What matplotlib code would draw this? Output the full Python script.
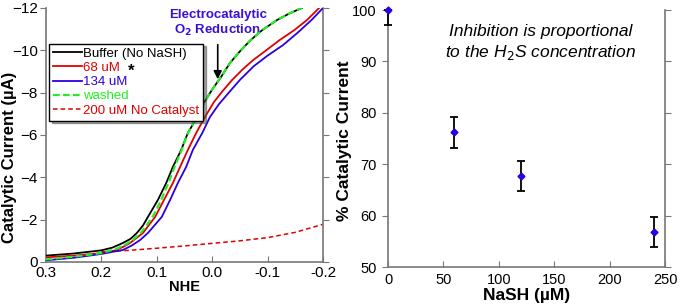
import matplotlib
matplotlib.use("Agg")
import matplotlib.pyplot as plt

plt.rcParams['font.family'] = ['Liberation Sans', 'DejaVu Sans']

# Left panel: catalytic current (uA) vs potential (V vs NHE)
buffer_E = [0.30, 0.25, 0.20, 0.18, 0.161, 0.147, 0.136, 0.125, 0.116, 0.098, 0.083, 0.071, 0.056,
            0.044, 0.027, 0.013, 0.000, -0.015, -0.032, -0.050, -0.068, -0.090, -0.117, -0.140, -0.162]
buffer_I = [-0.30, -0.40, -0.55, -0.68, -0.90, -1.10, -1.37, -1.72, -2.13, -2.93, -3.73, -4.49, -5.29,
            -6.09, -6.85, -7.60, -8.15, -8.70, -9.40, -9.95, -10.45, -10.95, -11.43, -11.75, -12.0]

uM68_E = [0.30, 0.25, 0.20, 0.175, 0.161, 0.148, 0.125, 0.103, 0.087, 0.071, 0.058, 0.044, 0.029,
          0.013, -0.003, -0.018, -0.036, -0.055, -0.074, -0.100, -0.122, -0.148, -0.171, -0.193]
uM68_I = [-0.22, -0.30, -0.42, -0.55, -0.71, -0.90, -1.37, -2.13, -2.93, -3.73, -4.49, -5.29, -6.09,
          -6.85, -7.55, -8.05, -8.60, -9.10, -9.54, -10.05, -10.49, -10.95, -11.43, -12.0]

uM134_E = [0.30, 0.25, 0.20, 0.161, 0.145, 0.130, 0.116, 0.091, 0.076, 0.062, 0.047, 0.035, 0.018,
           0.004, -0.012, -0.030, -0.050, -0.075, -0.100, -0.128, -0.155, -0.180, -0.200]
uM134_I = [-0.08, -0.20, -0.38, -0.57, -0.78, -1.04, -1.37, -2.13, -2.93, -3.73, -4.49, -5.29, -6.09,
           -6.85, -7.45, -8.00, -8.60, -9.25, -9.75, -10.25, -10.85, -11.45, -12.0]

washed_E = [0.30, 0.25, 0.20, 0.17, 0.155, 0.143, 0.128, 0.115, 0.106, 0.092, 0.079, 0.068, 0.055,
            0.044, 0.027, 0.013, 0.000, -0.015, -0.032, -0.050, -0.068, -0.090, -0.117, -0.140, -0.162]
washed_I = [-0.12, -0.25, -0.42, -0.65, -0.85, -1.05, -1.40, -1.85, -2.20, -2.93, -3.73, -4.49, -5.29,
            -6.09, -6.85, -7.60, -8.15, -8.70, -9.40, -9.95, -10.45, -10.95, -11.43, -11.75, -12.0]

nocat_E = [0.20, 0.15, 0.10, 0.05, 0.00, -0.05, -0.10, -0.15, -0.20]
nocat_I = [-0.48, -0.55, -0.65, -0.76, -0.88, -1.00, -1.15, -1.40, -1.78]

# Right panel: % catalytic current vs NaSH (uM)
nash_uM = [0, 60, 120, 240]
pct_current = [100, 76.2, 67.7, 56.8]
pct_err_lo = [3.0, 3.0, 3.0, 3.0]
pct_err_hi = [0.0, 3.0, 3.0, 3.0]

fig = plt.figure(figsize=(6.8, 3.08), dpi=100)
spine_col = '#777777'
red = '#e00000'
blue = '#2a00e0'
green = '#22ee22'

ax1 = fig.add_axes([0.0676, 0.1494, 0.4074, 0.8247])
kw = dict(solid_joinstyle='round', dash_joinstyle='round')
ax1.plot(buffer_E, buffer_I, color='black', lw=1.3, label='Buffer (No NaSH)', zorder=3, **kw)
ax1.plot(uM68_E, uM68_I, color=red, lw=1.3, label='68 uM', zorder=3, **kw)
ax1.plot(uM134_E, uM134_I, color=blue, lw=1.3, label='134 uM', zorder=3, **kw)
ax1.plot(washed_E, washed_I, color=green, lw=1.6, ls=(0, (3, 1.5)), label='washed', zorder=4, **kw)
ax1.plot(nocat_E, nocat_I, color=red, lw=1.1, ls=(0, (3, 2)), label='200 uM No Catalyst', zorder=2, **kw)
ax1.set_xlim(0.3, -0.2)
ax1.set_ylim(0, -12)
ax1.set_xticks([0.3, 0.2, 0.1, 0.0, -0.1, -0.2])
ax1.set_xticklabels(['0.3', '0.2', '0.1', '0.0', '-0.1', '-0.2'])
ax1.set_yticks([0, -2, -4, -6, -8, -10, -12])
ax1.set_xlabel('NHE', fontsize=10.5, fontweight='bold', labelpad=0)
ax1.set_ylabel('Catalytic Current (\u00b5A)', fontsize=12, fontweight='bold')
ax1.yaxis.set_label_coords(-0.105, 0.41)
ax1.tick_params(axis='x', direction='in', labelsize=11, length=4, color=spine_col, pad=3, top=False)
ax1.tick_params(axis='y', direction='out', labelsize=11, length=4, color=spine_col, pad=2)
ax1.tick_params(axis='y', which='both', right=True)
for s in ax1.spines.values():
    s.set_color(spine_col)
    s.set_linewidth(1.2)
ax1.spines['top'].set_visible(False)

leg = ax1.legend(loc='upper left', bbox_to_anchor=(0.01, 0.86), fontsize=9.5, frameon=True,
                 fancybox=False, shadow=True, handlelength=2.2, handletextpad=0.1,
                 borderpad=0.3, labelspacing=0.15, borderaxespad=0)
leg.get_frame().set_edgecolor('black')
leg.get_frame().set_linewidth(1.0)
for txt, col in zip(leg.get_texts(), ['black', red, blue, green, red]):
    txt.set_color(col)
fig.canvas.draw()
t68 = leg.get_texts()[1]
bb = t68.get_window_extent()
inv = fig.transFigure.inverted()
x0, y0 = inv.transform((bb.x1, (bb.y0 + bb.y1) / 2))
fig.text(x0 + 0.012, y0 - 0.012, '*', fontsize=12, fontweight='bold', color='black', va='center')

ax1.text(-0.01, -11.25, 'Electrocatalytic\nO$_\\mathbf{2}$ Reduction', color='#3a10d8', fontsize=9.5,
         fontweight='bold', ha='center', va='center', linespacing=1.15)
ax1.annotate('', xy=(-0.01, -8.5), xytext=(-0.01, -10.4),
             arrowprops=dict(arrowstyle='-|>', color='black', lw=1.2, mutation_scale=12))

ax2 = fig.add_axes([0.5706, 0.1331, 0.4074, 0.8344])
ax2.errorbar(nash_uM, pct_current, yerr=[pct_err_lo, pct_err_hi], fmt='D', color=blue,
             ms=3.5, ecolor='black', elinewidth=1.3, capsize=3, capthick=1.3, clip_on=False, zorder=3)
ax2.set_xlim(0, 250)
ax2.set_ylim(50, 100)
ax2.set_xticks([0, 50, 100, 150, 200, 250])
ax2.set_yticks([50, 60, 70, 80, 90, 100])
ax2.set_xlabel('NaSH (\u00b5M)', fontsize=12.5, fontweight='bold', labelpad=1)
ax2.set_ylabel('% Catalytic Current', fontsize=12.5, fontweight='bold')
ax2.yaxis.set_label_coords(-0.13, 0.49)
ax2.tick_params(axis='x', direction='in', labelsize=10.5, length=4, color=spine_col, pad=4)
ax2.tick_params(axis='y', direction='out', labelsize=10.5, length=4, color=spine_col, pad=4)
ax2.tick_params(axis='y', which='both', right=True)
for s in ax2.spines.values():
    s.set_color(spine_col)
    s.set_linewidth(1.2)
ax2.spines['top'].set_visible(False)
ax2.text(138, 93.6, 'Inhibition is proportional\nto the H$_2$S concentration', fontsize=12.5,
         style='italic', ha='center', va='center', linespacing=1.3)

fig.savefig('out.png', dpi=100)
